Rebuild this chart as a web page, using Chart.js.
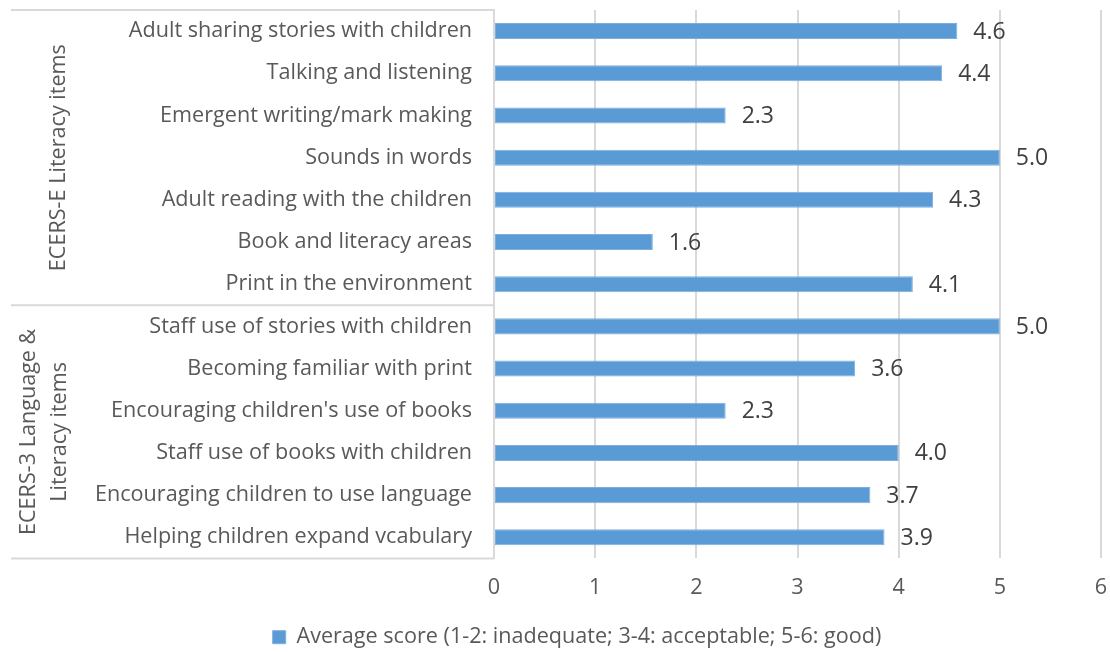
<!DOCTYPE html>
<html><head><meta charset="utf-8">
<script src="https://cdn.jsdelivr.net/npm/chart.js@4.4.1/dist/chart.umd.min.js"></script>
<style>html,body{margin:0;padding:0;background:#fff}#wrap{width:1110px;height:652px;position:relative}</style>
</head><body><div id="wrap"><canvas id="c" width="1110" height="652"></canvas></div>
<script>
// ---- data ----
const categories = [
  "Adult sharing stories with children",
  "Talking and listening",
  "Emergent writing/mark making",
  "Sounds in words",
  "Adult reading with the children",
  "Book and literacy areas",
  "Print in the environment",
  "Staff use of stories with children",
  "Becoming familiar with print",
  "Encouraging children's use of books",
  "Staff use of books with children",
  "Encouraging children to use language",
  "Helping children expand vcabulary"
];
const scores = [4.58, 4.43, 2.29, 5.0, 4.34, 1.57, 4.14, 5.0, 3.57, 2.29, 4.0, 3.72, 3.86];
const groupNames = [["ECERS-E Literacy items"], ["ECERS-3 Language &", "Literacy items"]];
const groupSizes = [7, 6];
const seriesLabel = "Average score (1-2: inadequate; 3-4: acceptable; 5-6: good)";
const xTicks = [0, 1, 2, 3, 4, 5, 6];

const FONT = "'Open Sans', Lato, sans-serif";
const FS = 21.6;
const LINE = '#d9d9d9';
const TEXT = '#595959';

const boxPlugin = {
  id: 'groupBox',
  afterDraw(chart) {
    const {ctx, chartArea} = chart;
    const ys = chart.scales.y;
    const x0 = 11, x1 = chartArea.left;
    ctx.save();
    ctx.strokeStyle = LINE; ctx.lineWidth = 2;
    const bounds = [chartArea.top];
    let idx = 0;
    for (let g = 0; g < groupSizes.length; g++) {
      idx += groupSizes[g];
      if (idx < categories.length) {
        bounds.push((ys.getPixelForValue(idx - 1) + ys.getPixelForValue(idx)) / 2);
      }
    }
    bounds.push(chartArea.bottom);
    ctx.beginPath();
    bounds.forEach(b => { ctx.moveTo(x0, b); ctx.lineTo(x1, b); });
    ctx.stroke();
    ctx.fillStyle = TEXT;
    ctx.font = FS + "px " + FONT;
    ctx.textAlign = 'center'; ctx.textBaseline = 'middle';
    for (let g = 0; g < groupNames.length; g++) {
      const cy = (bounds[g] + bounds[g + 1]) / 2;
      const lines = groupNames[g];
      const lh = 31;
      lines.forEach((t, i) => {
        ctx.save();
        ctx.translate(lines.length === 1 ? 59 : 29 + i * lh, cy);
        ctx.rotate(-Math.PI / 2);
        ctx.fillText(t, 0, 0);
        ctx.restore();
      });
    }
    ctx.restore();
  }
};

const labelPlugin = {
  id: 'valueLabels',
  afterDatasetsDraw(chart) {
    const {ctx} = chart;
    const meta = chart.getDatasetMeta(0);
    ctx.save();
    ctx.fillStyle = '#404040';
    ctx.font = "23px " + FONT;
    ctx.textAlign = 'left'; ctx.textBaseline = 'middle';
    meta.data.forEach((bar, i) => {
      ctx.fillText(chart.data.datasets[0].data[i].toFixed(1), bar.x + 16, bar.y + 1);
    });
    ctx.restore();
  }
};

new Chart(document.getElementById('c'), {
  type: 'bar',
  data: {
    labels: categories,
    datasets: [{
      label: seriesLabel,
      data: scores,
      backgroundColor: '#5b9bd5',
      borderColor: '#7eaee0',
      borderWidth: 1,
      borderSkipped: false,
      categoryPercentage: 1,
      barPercentage: 0.38
    }]
  },
  options: {
    indexAxis: 'y',
    responsive: false,
    devicePixelRatio: 1,
    animation: false,
    layout: {padding: {top: 10, right: 9, left: 53, bottom: -6}},
    plugins: {
      tooltip: {enabled: false},
      legend: {
        position: 'bottom',
        labels: {
          color: TEXT,
          font: {family: FONT, size: FS},
          boxWidth: 13, boxHeight: 13,
          padding: 14
        }
      }
    },
    scales: {
      x: {
        min: 0, max: 6,
        afterBuildTicks(scale) { scale.ticks = xTicks.map(v => ({value: v})); },
        ticks: {color: TEXT, font: {family: FONT, size: FS}, padding: 16},
        grid: {color: LINE, lineWidth: 2, drawTicks: false},
        border: {display: false},
        afterFit(scale) { scale.height = 54; scale.paddingLeft = 0; scale.paddingRight = 0; }
      },
      y: {
        ticks: {color: TEXT, font: {family: FONT, size: FS}, padding: 22, autoSkip: false},
        grid: {display: false, drawTicks: false},
        border: {color: LINE, width: 2},
        afterFit(scale) { scale.width = 441; scale.paddingTop = 0; scale.paddingBottom = 0; }
      }
    }
  },
  plugins: [boxPlugin, labelPlugin]
});
</script></body></html>
